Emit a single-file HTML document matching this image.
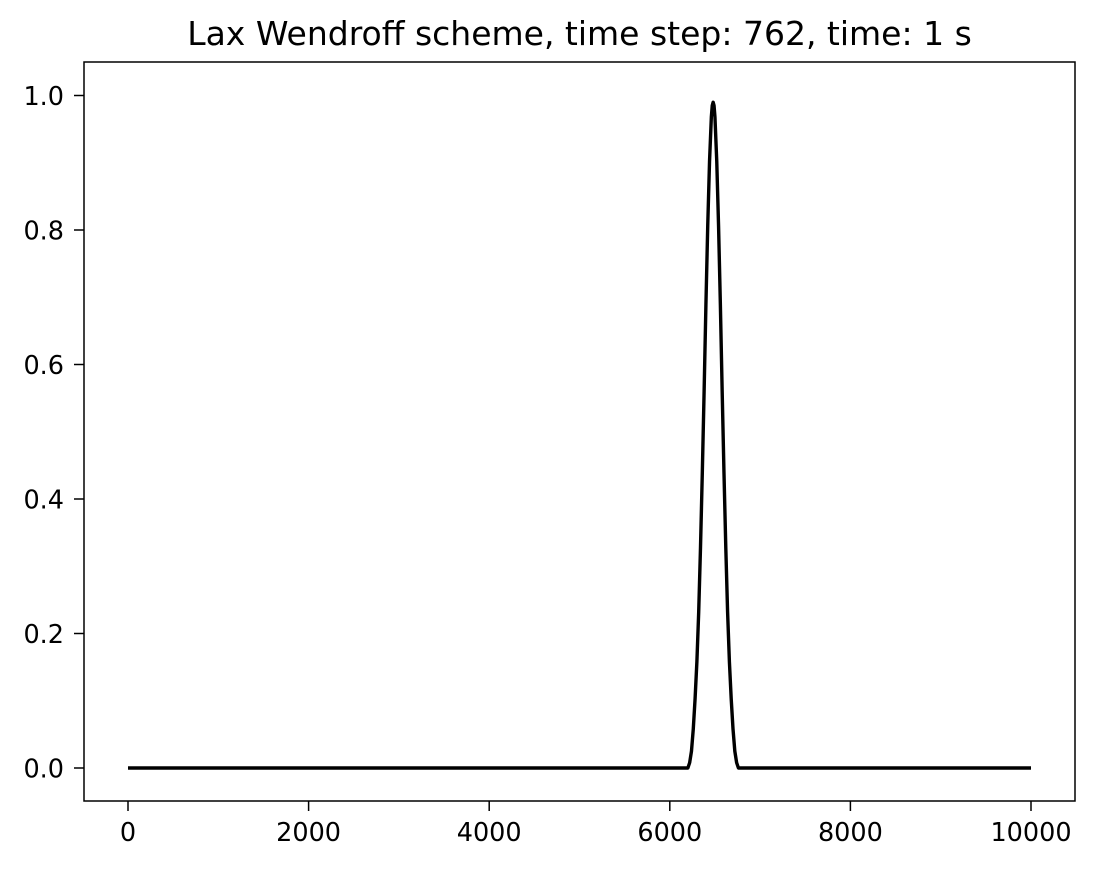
<!DOCTYPE html>
<html><head><meta charset="utf-8"><style>
html,body{margin:0;padding:0;background:#fff;}
svg text{font-family:"DejaVu Sans","Liberation Sans",sans-serif;fill:#000;}
</style></head><body>
<svg id="chart" width="1095" height="869" xmlns="http://www.w3.org/2000/svg">
<rect width="1095" height="869" fill="#fff"/>
<text x="579.5" y="45" font-size="33" text-anchor="middle">Lax Wendroff scheme, time step: 762, time: 1 s</text>
<g id="ticks"></g>
<path id="series" fill="none" stroke="#000" stroke-width="3.4" stroke-linejoin="round"/>
<rect x="84" y="62" width="991" height="739" fill="none" stroke="#000" stroke-width="1.5"/>
</svg>
<script>
const xTicks = [0, 2000, 4000, 6000, 8000, 10000];
const yTicks = [0.0, 0.2, 0.4, 0.6, 0.8, 1.0];
const yTickLabels = ["0.0", "0.2", "0.4", "0.6", "0.8", "1.0"];
const xValues = [0, 6200, 6220, 6240, 6260, 6280, 6300, 6320, 6340, 6360, 6380, 6400, 6420, 6440, 6460, 6470, 6480, 6490, 6500, 6520, 6540, 6560, 6580, 6600, 6620, 6640, 6660, 6680, 6700, 6720, 6740, 6760, 10000];
const yValues = [0, 0, 0.008, 0.025, 0.058, 0.103, 0.158, 0.232, 0.328, 0.439, 0.56, 0.689, 0.806, 0.902, 0.968, 0.985, 0.99, 0.985, 0.968, 0.902, 0.806, 0.689, 0.56, 0.439, 0.328, 0.232, 0.158, 0.103, 0.058, 0.025, 0.008, 0, 0];

const X0 = 128, X1 = 1031, Y0 = 768, Y1 = 95.5;
function sx(v){ return X0 + (v - 0) / 10000 * (X1 - X0); }
function sy(v){ return Y0 - v * (Y0 - Y1); }

const NS = "http://www.w3.org/2000/svg";
const g = document.getElementById('ticks');
xTicks.forEach(t => {
  const l = document.createElementNS(NS, 'line');
  l.setAttribute('x1', sx(t)); l.setAttribute('x2', sx(t));
  l.setAttribute('y1', 801); l.setAttribute('y2', 811);
  l.setAttribute('stroke', '#000'); l.setAttribute('stroke-width', '1.5');
  
  
  g.appendChild(l);
  const tx = document.createElementNS(NS, 'text');
  tx.setAttribute('x', sx(t)); tx.setAttribute('y', 841);
  tx.setAttribute('font-size', '25.5'); tx.setAttribute('text-anchor', 'middle');
  tx.textContent = String(t);
  
  
  g.appendChild(tx);
});
yTicks.forEach((t, i) => {
  const l = document.createElementNS(NS, 'line');
  l.setAttribute('x1', 74); l.setAttribute('x2', 84);
  l.setAttribute('y1', sy(t)); l.setAttribute('y2', sy(t));
  l.setAttribute('stroke', '#000'); l.setAttribute('stroke-width', '1.5');
  
  
  g.appendChild(l);
  const tx = document.createElementNS(NS, 'text');
  tx.setAttribute('x', 64); tx.setAttribute('y', sy(t) + 9.5);
  tx.setAttribute('font-size', '25.5'); tx.setAttribute('text-anchor', 'end');
  tx.textContent = yTickLabels[i];
  
  
  g.appendChild(tx);
});
let d = '';
xValues.forEach((x, i) => { d += (i ? 'L' : 'M') + sx(x).toFixed(2) + ',' + sy(yValues[i]).toFixed(2); });
document.getElementById('series').setAttribute('d', d);
</script>
</body></html>
